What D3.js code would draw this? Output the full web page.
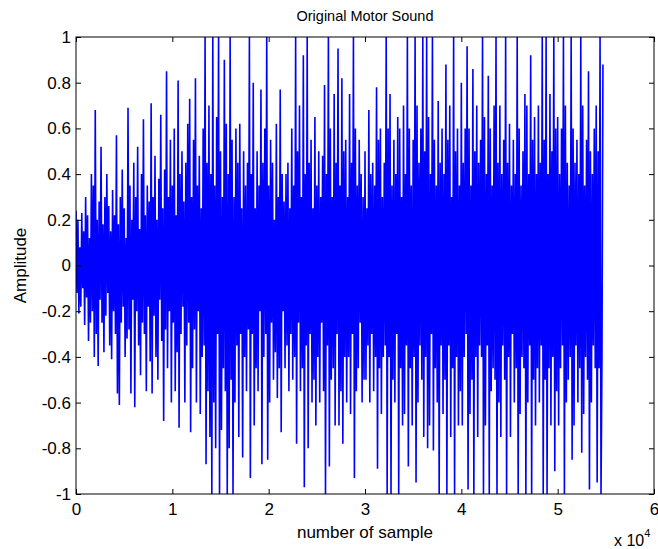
<script src="https://d3js.org/d3.v7.min.js"></script>
<body style="margin:0;background:#fff">
<svg width="658" height="549"></svg>
<script>
  // sample spacing of the amplitude readings below
  var sampleStep = 100;

  // amplitude readings, one every sampleStep samples,
  // one row per 2000 samples
  var amplitude = [
    0.24, -0.12, 0.20, -0.21, 0.08, -0.18, 0.23, -0.10, 0.15, -0.26, 0.30, -0.14, 0.22, -0.33, 0.12, -0.25, 0.40, -0.20, 0.35, -0.40,
    0.68, -0.30, 0.20, -0.44, 0.28, -0.15, 0.52, -0.25, 0.18, -0.38, 0.30, -0.22, 0.40, -0.12, 0.26, -0.35, 0.15, -0.41, 0.33, -0.20,
    0.22, -0.30, 0.57, -0.56, 0.18, -0.61, 0.30, -0.25, 0.42, -0.18, 0.25, -0.40, 0.12, -0.32, 0.69, -0.28, 0.35, -0.56, 0.20, -0.15,
    0.45, -0.62, 0.30, -0.20, 0.52, -0.35, 0.16, -0.48, 0.40, -0.25, 0.64, -0.30, 0.22, -0.55, 0.35, -0.18, 0.28, -0.42, 0.71, -0.56,
    0.30, -0.22, 0.48, -0.40, 0.20, -0.50, 0.38, -0.15, 0.66, -0.33, 0.25, -0.68, 0.42, -0.28, 0.85, -0.45, 0.30, -0.20, 0.55, -0.60,
    0.35, -0.25, 0.60, -0.55, 0.22, -0.38, 0.81, -0.71, 0.40, -0.30, 0.50, -0.18, 0.28, -0.60, 0.45, -0.35, 0.62, -0.25, 0.73, -0.73,
    0.30, -0.45, 0.55, -0.28, 0.82, -0.60, 0.35, -0.20, 0.48, -0.65, 0.25, -0.40, 0.60, -0.35, 1.00, -0.87, 0.45, -0.55, 0.70, -0.75,
    0.40, -1.00, 1.00, -0.60, 0.35, -0.80, 0.65, -0.30, 1.00, -1.00, 0.50, -0.72, 0.30, -0.45, 0.90, -0.55, 0.62, -1.00, 0.40, -0.80,
    1.00, -0.50, 0.55, -1.00, 0.30, -0.60, 0.60, -0.35, 0.45, -0.75, 0.62, -0.30, 0.25, -0.84, 0.50, -0.40, 0.35, -0.55, 0.45, -0.28,
    1.00, -0.93, 0.40, -0.30, 0.80, -0.70, 0.25, -0.45, 0.50, -0.55, 0.35, -0.20, 0.77, -0.87, 0.45, -0.40, 0.60, -0.30, 1.00, -0.85,
    0.35, -0.60, 0.55, -0.25, 0.45, -0.50, 0.20, -0.38, 0.62, -0.58, 0.30, -0.45, 0.77, -0.73, 0.40, -0.20, 0.28, -0.45, 0.40, -0.35,
    0.45, -0.55, 0.25, -0.30, 0.60, -0.50, 0.35, -0.40, 1.00, -0.78, 0.50, -0.25, 0.70, -0.55, 0.30, -0.45, 0.92, -0.97, 0.40, -0.35,
    1.00, -0.80, 0.45, -0.30, 0.55, -0.60, 0.25, -0.50, 0.65, -0.70, 0.35, -0.40, 0.50, -0.60, 0.30, -0.25, 0.48, -0.55, 0.79, -1.00,
    0.40, -0.35, 1.00, -0.88, 0.60, -0.50, 0.30, -0.45, 0.75, -0.70, 0.45, -0.30, 0.95, -0.70, 0.35, -0.55, 0.82, -0.78, 0.50, -0.40,
    0.55, -0.60, 0.30, -0.40, 0.75, -0.65, 0.45, -0.30, 1.00, -0.93, 0.60, -0.55, 0.35, -0.45, 0.55, -0.25, 0.40, -0.60, 0.30, -0.50,
    0.50, -0.50, 0.25, -0.35, 0.68, -0.60, 0.40, -0.30, 0.45, -0.55, 0.35, -0.40, 0.78, -0.89, 0.55, -0.45, 0.60, -0.65, 0.30, -0.40,
    0.45, -0.35, 1.00, -1.00, 0.60, -0.40, 0.75, -1.00, 0.35, -0.50, 0.55, -0.60, 0.40, -0.30, 0.65, -1.00, 0.60, -0.45, 0.30, -0.70,
    0.70, -0.65, 0.40, -0.35, 1.00, -0.88, 0.60, -0.45, 0.35, -0.70, 0.55, -0.40, 1.00, -0.95, 0.70, -0.60, 0.45, -0.35, 0.60, -0.50,
    1.00, -0.75, 0.50, -0.40, 1.00, -0.80, 0.65, -0.70, 0.40, -0.30, 1.00, -0.81, 0.55, -0.45, 0.35, -0.60, 0.72, -1.00, 0.45, -0.35,
    0.60, -0.65, 0.40, -0.50, 0.88, -1.00, 0.55, -0.35, 0.70, -0.75, 0.30, -0.45, 1.00, -1.00, 0.50, -0.40, 0.60, -0.70, 0.35, -0.55,
    0.80, -0.70, 0.45, -0.40, 0.60, -0.30, 0.96, -0.98, 0.60, -0.65, 0.35, -0.50, 0.86, -1.00, 0.50, -0.40, 0.70, -0.75, 0.45, -0.35,
    0.55, -0.40, 1.00, -1.00, 0.65, -0.70, 0.40, -0.35, 0.83, -1.00, 0.60, -0.55, 0.35, -0.45, 0.70, -0.50, 1.00, -1.00, 0.45, -0.60,
    0.70, -0.75, 0.40, -0.35, 0.55, -0.50, 1.00, -1.00, 0.45, -0.40, 0.62, -0.75, 0.35, -0.30, 0.55, -0.60, 0.40, -0.45, 1.00, -1.00,
    0.60, -0.65, 0.35, -0.40, 0.50, -0.45, 0.75, -1.00, 0.70, -0.60, 0.40, -0.35, 0.92, -1.00, 0.55, -0.50, 0.65, -0.70, 0.40, -0.45,
    0.70, -0.60, 0.45, -0.35, 1.00, -1.00, 0.55, -0.50, 1.00, -1.00, 0.40, -0.45, 0.75, -0.70, 0.50, -0.40, 1.00, -0.90, 0.60, -0.55,
    0.65, -0.70, 0.40, -0.45, 0.60, -0.35, 1.00, -1.00, 0.70, -0.60, 0.45, -0.50, 0.35, -0.40, 1.00, -0.85, 0.60, -0.70, 0.45, -0.35,
    0.55, -0.60, 0.40, -0.45, 1.00, -0.82, 0.70, -0.65, 0.35, -0.40, 0.55, -0.50, 0.85, -0.98, 0.50, -0.60, 0.40, -0.35, 0.60, -0.45,
    0.70, -0.95, 0.50, -0.45, 1.00, -1.00, -0.40, 0.88
  ];

  var xTicks = [0, 10000, 20000, 30000, 40000, 50000, 60000];
  var xTickLabels = ["0", "1", "2", "3", "4", "5", "6"];
  var yTicks = [-1, -0.8, -0.6, -0.4, -0.2, 0, 0.2, 0.4, 0.6, 0.8, 1];
  var yTickLabels = ["-1", "-0.8", "-0.6", "-0.4", "-0.2", "0", "0.2", "0.4", "0.6", "0.8", "1"];

  var svg = d3.select("svg"),
    margin = { top: 37, right: 4, bottom: 55, left: 76 },
    width = svg.attr("width") - margin.left - margin.right,
    height = svg.attr("height") - margin.top - margin.bottom,
    g = svg
      .append("g")
      .attr("transform", "translate(" + margin.left + "," + margin.top + ")");

  var font = "Liberation Sans, Arial, Helvetica, sans-serif";

  var x = d3.scaleLinear().domain([0, 60000]).range([0, width]),
    y = d3.scaleLinear().domain([-1, 1]).range([height, 0]);

  g.append("clipPath")
    .attr("id", "clip")
    .append("rect")
    .attr("width", width)
    .attr("height", height);

  var line = d3
    .line()
    .x(function (d, i) {
      return x(i * sampleStep);
    })
    .y(function (d) {
      return y(d);
    });

  g.append("path")
    .datum(amplitude)
    .attr("clip-path", "url(#clip)")
    .attr("fill", "none")
    .attr("stroke", "#0000ff")
    .attr("stroke-width", 1.6)
    .attr("stroke-linejoin", "bevel")
    .attr("d", line);

  function styleAxis(sel) {
    sel.select(".domain").remove();
    sel.selectAll(".tick line").attr("stroke", "#000");
    sel.selectAll(".tick text")
      .attr("fill", "#000")
      .style("font-family", font)
      .style("font-size", "17px");
  }

  // bottom + top
  g.append("g")
    .attr("transform", "translate(0," + height + ")")
    .call(
      d3.axisBottom(x).tickValues(xTicks).tickSizeInner(-5).tickSizeOuter(0).tickPadding(9)
        .tickFormat(function (d, i) { return xTickLabels[i]; })
    )
    .call(styleAxis);
  g.append("g")
    .call(d3.axisTop(x).tickValues(xTicks).tickSizeInner(-5).tickSizeOuter(0).tickFormat(""))
    .call(styleAxis);

  // left + right
  g.append("g")
    .call(
      d3.axisLeft(y).tickValues(yTicks).tickSizeInner(-5).tickSizeOuter(0).tickPadding(5)
        .tickFormat(function (d, i) { return yTickLabels[i]; })
    )
    .call(styleAxis);
  g.append("g")
    .attr("transform", "translate(" + width + ",0)")
    .call(d3.axisRight(y).tickValues(yTicks).tickSizeInner(-5).tickSizeOuter(0).tickFormat(""))
    .call(styleAxis);

  g.append("rect")
    .attr("width", width)
    .attr("height", height)
    .attr("fill", "none")
    .attr("stroke", "#000")
    .attr("stroke-width", 1);

  svg.append("text")
    .attr("x", margin.left + width / 2)
    .attr("y", 21)
    .attr("text-anchor", "middle")
    .style("font-family", font)
    .style("font-size", "14.5px")
    .text("Original Motor Sound");

  svg.append("text")
    .attr("x", margin.left + width / 2)
    .attr("y", 538)
    .attr("text-anchor", "middle")
    .style("font-family", font)
    .style("font-size", "17px")
    .text("number of sample");

  svg.append("text")
    .attr("transform", "translate(26," + (margin.top + height / 2) + ") rotate(-90)")
    .attr("text-anchor", "middle")
    .style("font-family", font)
    .style("font-size", "17px")
    .text("Amplitude");

  var mult = svg.append("text")
    .attr("x", 614)
    .attr("y", 546)
    .style("font-family", font)
    .style("font-size", "16px");
  mult.append("tspan").text("x 10");
  mult.append("tspan").attr("dy", -9).style("font-size", "11px").text("4");
</script>
</body>
